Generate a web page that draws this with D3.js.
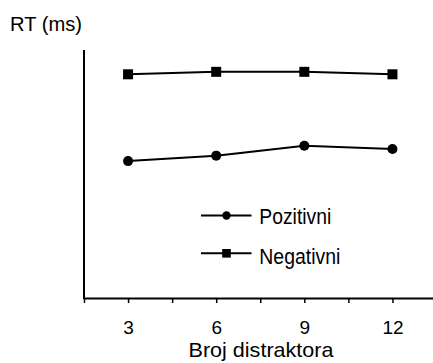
<!DOCTYPE html>
<html><head><meta charset="utf-8">
<script src="https://cdn.jsdelivr.net/npm/d3@7"></script>
<style>
body{margin:0;background:#fff;}
text{font-family:"Liberation Sans",Arial,sans-serif;fill:#000;}
</style></head>
<body>
<svg id="c" width="433" height="363"></svg>
<script>
const categories = [3, 6, 9, 12];
const tickValues = [1.5, 3, 4.5, 6, 7.5, 9, 10.5, 12];
const tickLabels = ["", "3", "", "6", "", "9", "", "12"];
const pozitivni = [552, 574, 614, 601];
const negativni = [902, 912, 912, 902];
const seriesNames = ["Pozitivni", "Negativni"];

const svg = d3.select("#c");
const x = d3.scaleLinear().domain([1.5, 13.38]).range([84, 433]);
const y = d3.scaleLinear().domain([0, 1000]).range([298, 50]);

// x axis
const xa = svg.append("g").attr("transform", "translate(0,298)")
  .call(d3.axisBottom(x).tickValues(tickValues)
    .tickFormat((d,i) => tickLabels[i]).tickSizeOuter(0).tickSizeInner(5).tickPadding(18));
xa.select(".domain").attr("stroke", "#000").attr("stroke-width", 2);
xa.selectAll(".tick line").attr("stroke", "#000").attr("stroke-width", 1.5);
xa.selectAll(".tick text").style("font-size", "19px").attr("font-family", null);

// y axis (no ticks)
svg.append("line").attr("x1", 84).attr("x2", 84).attr("y1", y(1000)).attr("y2", y(0) + 1)
  .attr("stroke", "#000").attr("stroke-width", 2);

svg.append("text").attr("x", 10).attr("y", 31).style("font-size", "21px")
  .attr("textLength", 72).attr("lengthAdjust", "spacingAndGlyphs").text("RT (ms)");
svg.append("text").attr("x", 188.5).attr("y", 357)
  .style("font-size", "21px").attr("textLength", 145).attr("lengthAdjust", "spacingAndGlyphs")
  .text("Broj distraktora");

const line = d3.line().x((d,i) => x(categories[i])).y(d => y(d));

svg.append("path").datum(negativni).attr("d", line).attr("fill", "none")
  .attr("stroke", "#000").attr("stroke-width", 2);
svg.append("path").datum(pozitivni).attr("d", line).attr("fill", "none")
  .attr("stroke", "#000").attr("stroke-width", 2);

svg.selectAll("rect.neg").data(negativni).enter().append("rect")
  .attr("x", (d,i) => x(categories[i]) - 5).attr("y", d => y(d) - 5)
  .attr("width", 10).attr("height", 10).attr("fill", "#000");
svg.selectAll("circle.pos").data(pozitivni).enter().append("circle")
  .attr("cx", (d,i) => x(categories[i])).attr("cy", d => y(d)).attr("r", 5).attr("fill", "#000");

// legend
const lg = [{name: seriesNames[0], yy: 215.5, shape: "circle", len: 72, base: 224},
            {name: seriesNames[1], yy: 253.3, shape: "square", len: 81, base: 263.5}];
lg.forEach(l => {
  svg.append("line").attr("x1", 201).attr("x2", 251.5).attr("y1", l.yy).attr("y2", l.yy)
    .attr("stroke", "#000").attr("stroke-width", 2);
  if (l.shape === "circle") svg.append("circle").attr("cx", 226.5).attr("cy", l.yy).attr("r", 4.2).attr("fill", "#000");
  else svg.append("rect").attr("x", 222.2).attr("y", l.yy - 4.3).attr("width", 8.6).attr("height", 8.6).attr("fill", "#000");
  svg.append("text").attr("x", 259.3).attr("y", l.base).style("font-size", "22px")
    .attr("textLength", l.len).attr("lengthAdjust", "spacingAndGlyphs").text(l.name);
});
</script>
</body></html>
